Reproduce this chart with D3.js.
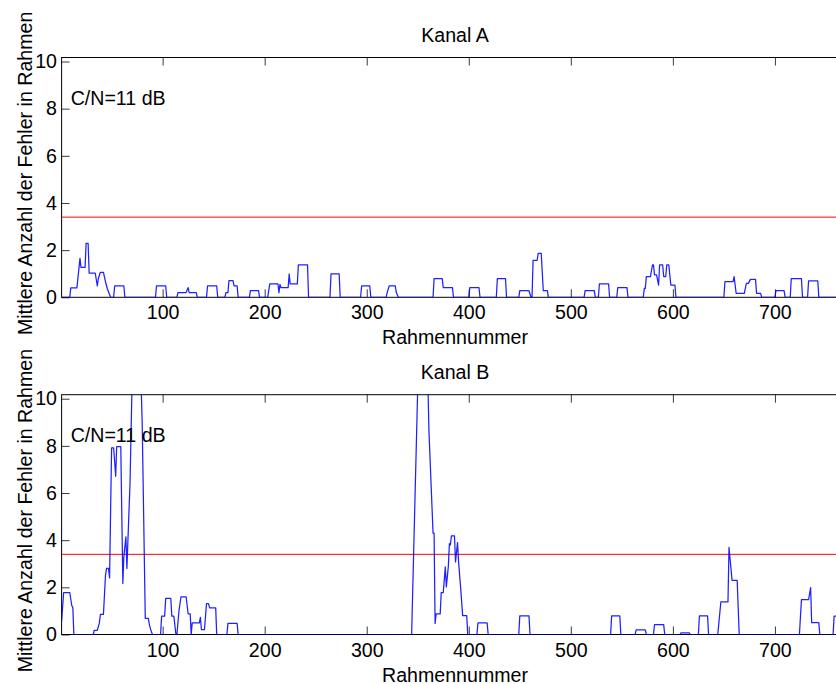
<!DOCTYPE html>
<html>
<head>
<meta charset="utf-8">
<script src="https://cdn.jsdelivr.net/npm/d3@7"></script>
<style>
  html, body { margin: 0; padding: 0; background: #fff; }
  svg { display: block; font-family: "Liberation Sans", Arial, Helvetica, sans-serif; }
</style>
</head>
<body>
<svg id="chart" width="836" height="684"></svg>
<script>
// Moving average of errors per frame, stored as polyline vertices (frame, value)
const kanalAFrames = [1,9,10,16,19,20,24,25,27,28,34,36,37,39,42,44,46,49,52,53,62,63,
  93,94,103,104,114,115,123,125,126,133,134,143,144,153,154,161,162,164,165,169,170,173,174,
  185,186,194,195,203,204,205,213,214,215,216,223,224,225,232,233,242,243,264,265,273,274,
  294,295,303,304,319,320,322,328,329,331,365,366,374,375,384,385,400,401,410,411,
  427,428,436,437,449,450,459,461,462,463,467,468,471,473,477,478,
  513,514,523,524,527,528,537,538,545,546,555,556,
  571,572,573,574,578,580,581,582,584,586,587,590,591,593,594,596,598,602,603,
  650,651,659,660,662,670,672,674,676,681,682,686,687,
  700,701,709,710,715,716,726,727,732,733,742,743,772];
const kanalAValues = [0,0,0.4,0.4,1.65,1.27,1.27,2.29,2.29,1.02,1.02,0.48,0.8,1.06,1.06,0.66,0.34,0,0,0.48,0.48,0,
  0,0.48,0.48,0,0,0.2,0.2,0.41,0.2,0.2,0,0,0.48,0.48,0,0,0.2,0.2,0.71,0.71,0.48,0.48,0,
  0,0.28,0.28,0,0,0.3,0.57,0.57,0.2,0.55,0.41,0.41,0.99,0.57,0.57,1.37,1.37,0,0,0.99,0.99,0,
  0,0.48,0.48,0,0,0.2,0.48,0.48,0.2,0,0,0.79,0.79,0.41,0.41,0,0,0.41,0.41,0,
  0,0.79,0.79,0,0,0.28,0.28,0,0,1.57,1.57,1.86,1.86,0.28,0.28,0,
  0,0.28,0.28,0,0,0.57,0.57,0,0,0.41,0.41,0,
  0,0.38,0.38,0.88,0.88,1.37,1.37,0.95,0.95,0.52,1.37,1.37,0.88,0.88,1.37,1.37,0.52,0.52,0,
  0,0.66,0.66,0.88,0.17,0.17,0.59,0.59,0.76,0.76,0.17,0.17,0,
  0,0.28,0.28,0,0,0.79,0.79,0,0,0.7,0.7,0,0];

const kanalBFrames = [1,3,9,11,12,13,32,33,36,38,39,42,44,45,47,48,50,52,54,55,59,61,62,64,65,67,68,70,79,80,83,86,87,88,90,
  98,99,102,103,108,109,111,113,114,116,118,123,125,127,128,129,136,137,138,141,143,145,146,152,153,
  163,164,173,174,
  344,350,360,361,365,366,367,368,372,373,375,377,378,380,381,382,383,386,387,389,390,392,394,398,399,
  408,409,418,419,449,450,459,460,
  539,540,548,549,563,564,573,574,581,582,591,592,607,608,616,617,625,626,634,635,
  644,647,654,655,658,663,665,724,726,733,735,736,743,744,757,758,772];
const kanalBValues = [0.55,1.78,1.78,1.22,1.15,0,0,0.18,0.18,0.48,0.85,0.85,2.5,2.8,2.8,2.4,7.92,7.92,6.71,7.97,7.97,2.16,3.3,4.14,2.8,5.2,6.33,10.5,10.5,8.9,0.68,0.68,0.42,0.25,0,
  0,0.78,0.78,1.53,1.53,0.78,0.78,0,0,1.0,1.6,1.6,0.88,0.88,0,0.49,0.49,0.73,0.21,0.21,1.31,1.31,1.13,1.13,0,
  0,0.47,0.47,0,
  0,10.5,10.5,8.6,4.3,4.3,0.47,0.87,0.87,1.78,1.78,2.87,2.02,2.9,3.85,3.8,4.18,4.18,3.08,3.9,3.08,2.0,0.8,0.8,0,
  0,0.49,0.49,0,0,0.79,0.79,0,
  0,0.79,0.79,0,0,0.2,0.2,0,0,0.42,0.42,0,0,0.07,0.07,0,0,0.79,0.79,0,
  0,1.38,1.38,3.7,2.3,2.3,0,0,1.48,1.48,1.99,0.5,0.5,0,0,0.78,0.78];

const panelTitles = ["Kanal A", "Kanal B"];
const noteLabel = "C/N=11 dB";
const xAxisLabel = "Rahmennummer";
const yAxisLabel = "Mittlere Anzahl der Fehler in Rahmen";
const xTickValues = [100, 200, 300, 400, 500, 600, 700];
const yTickValues = [0, 2, 4, 6, 8, 10];
const xLimits = [1, 772];
const yLimits = [0, 10.17];
const thresholdValue = 3.4;

const svg = d3.select("#chart");
const fontSize = 19.6;

const panels = [
  { title: panelTitles[0], frames: kanalAFrames, values: kanalAValues, top: 57.5, bottom: 297.3 },
  { title: panelTitles[1], frames: kanalBFrames, values: kanalBValues, top: 394.7, bottom: 634.5 }
];

const x = d3.scaleLinear().domain(xLimits).range([61.6, 848.4]);

panels.forEach((p, i) => {
  const y = d3.scaleLinear().domain(yLimits).range([p.bottom, p.top]);
  const g = svg.append("g");
  const clipId = "clip" + i;

  svg.append("defs").append("clipPath").attr("id", clipId)
    .append("rect")
    .attr("x", x(xLimits[0])).attr("y", p.top)
    .attr("width", x(xLimits[1]) - x(xLimits[0])).attr("height", p.bottom - p.top);

  // axes with inward ticks
  const tickLen = 8;
  const left = g.append("g").attr("transform", `translate(${x(xLimits[0])},0)`)
    .call(d3.axisLeft(y).tickValues(yTickValues).tickSizeInner(-tickLen).tickSizeOuter(0).tickPadding(4.6).tickFormat(d3.format("d")));
  const bottom = g.append("g").attr("transform", `translate(0,${p.bottom})`)
    .call(d3.axisBottom(x).tickValues(xTickValues).tickSizeInner(-tickLen).tickSizeOuter(0).tickPadding(8.2).tickFormat(d3.format("d")));
  const topAx = g.append("g").attr("transform", `translate(0,${p.top})`)
    .call(d3.axisTop(x).tickValues(xTickValues).tickSizeInner(-tickLen).tickSizeOuter(0).tickFormat(""));
  const right = g.append("g").attr("transform", `translate(${x(xLimits[1])},0)`)
    .call(d3.axisRight(y).tickValues(yTickValues).tickSizeInner(-tickLen).tickSizeOuter(0).tickFormat(""));

  [left, bottom, topAx, right].forEach(a => {
    a.select(".domain").remove();
    a.selectAll(".tick line").attr("stroke", "#3a3a3a").attr("stroke-width", 1);
    a.selectAll(".tick text").attr("fill", "#000").style("font-size", fontSize + "px")
      .style("font-family", '"Liberation Sans", Arial, sans-serif');
  });

  // frame
  g.append("rect")
    .attr("x", x(xLimits[0])).attr("y", p.top)
    .attr("width", x(xLimits[1]) - x(xLimits[0])).attr("height", p.bottom - p.top)
    .attr("fill", "none").attr("stroke", "#000").attr("stroke-width", 1);

  // threshold
  g.append("line")
    .attr("x1", x(xLimits[0])).attr("x2", x(xLimits[1]))
    .attr("y1", y(thresholdValue)).attr("y2", y(thresholdValue))
    .attr("stroke", "#ff0000").attr("stroke-width", 1);

  // error curve
  const pts = p.frames.map((f, k) => [f, p.values[k]]);
  g.append("path")
    .datum(pts)
    .attr("clip-path", `url(#${clipId})`)
    .attr("fill", "none")
    .attr("stroke", "#0000ff")
    .attr("stroke-opacity", 0.88)
    .attr("stroke-width", 1.25)
    .attr("stroke-linejoin", "round")
    .attr("d", d3.line().x(d => x(d[0])).y(d => y(d[1])));

  // texts
  const cx = (x(xLimits[0]) + x(xLimits[1])) / 2;
  g.append("text").attr("x", cx).attr("y", p.top - 16)
    .attr("text-anchor", "middle").style("font-size", fontSize + "px").text(p.title);
  g.append("text").attr("x", 70.7).attr("y", p.top + 47.5)
    .style("font-size", fontSize + "px").text(noteLabel);
  g.append("text").attr("x", cx).attr("y", p.bottom + 47)
    .attr("text-anchor", "middle").style("font-size", fontSize + "px").text(xAxisLabel);
  g.append("text")
    .attr("transform", `translate(31.5,${(p.top + p.bottom) / 2 - 4}) rotate(-90)`)
    .attr("text-anchor", "middle").style("font-size", fontSize + "px").text(yAxisLabel);
});
</script>
</body>
</html>
